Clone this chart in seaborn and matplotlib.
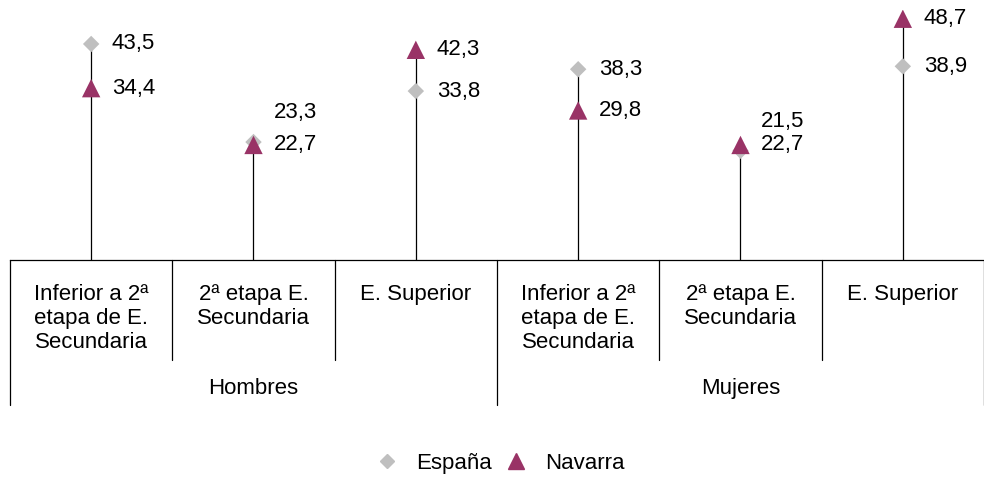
import matplotlib as mpl
import matplotlib.pyplot as plt
import seaborn as sb
import pandas as pd

mpl.use('agg')

groups = ["Hombres", "Mujeres"]
levels = ["Inferior a 2ª\netapa de E.\nSecundaria", "2ª etapa E.\nSecundaria", "E. Superior"]
espana = [43.5, 23.3, 33.8, 38.3, 21.5, 38.9]
navarra = [34.4, 22.7, 42.3, 29.8, 22.7, 48.7]

grey = "#BFBFBF"
plum = "#993366"

sb.set_theme(style="white")
plt.rcParams['font.family'] = ['Liberation Sans', 'DejaVu Sans']
plt.rcParams['text.color'] = 'black'

rows = []
for i in range(len(espana)):
    rows.append({'pos': i, 'region': 'España', 'valor': espana[i]})
for i in range(len(navarra)):
    rows.append({'pos': i, 'region': 'Navarra', 'valor': navarra[i]})
df = pd.DataFrame(rows)

fig = plt.figure(figsize=(9.84, 4.78), dpi=100)
ax = fig.add_axes([10 / 984, 218 / 478, 974 / 984, 250 / 478])

# drop lines from the axis up to the higher marker
top = df.groupby('pos')['valor'].max()
ax.vlines(top.index, -1, top.values, color='black', linewidth=0.9, zorder=1)

sb.scatterplot(data=df, x='pos', y='valor', hue='region', style='region', size='region',
               palette={'España': grey, 'Navarra': plum},
               markers={'España': 'D', 'Navarra': '^'},
               sizes={'España': 70, 'Navarra': 175},
               linewidth=0, ax=ax, zorder=3, legend=False)

fs = 16
for i in range(len(espana)):
    e, n = espana[i], navarra[i]
    close = abs(e - n) < 3
    ax.annotate(f"{e:.1f}".replace('.', ','), (i, e), xytext=(15, 21 if close else 0),
                textcoords='offset points', va='center', ha='left', fontsize=fs)
    ax.annotate(f"{n:.1f}".replace('.', ','), (i, n), xytext=(15, 0),
                textcoords='offset points', va='center', ha='left', fontsize=fs)

ax.set_xlim(-0.5, 5.5)
ax.set_ylim(-1, 50.5)
ax.set_xticks([])
ax.set_yticks([])
ax.set_xlabel("")
ax.set_ylabel("")
for s in ['top', 'left', 'right']:
    ax.spines[s].set_visible(False)
ax.spines['bottom'].set_color('black')
ax.spines['bottom'].set_linewidth(0.9)

# multi-level category axis
tr = ax.get_xaxis_transform()
for k in range(7):
    x = k - 0.5
    low = -0.58 if k % 3 == 0 else -0.4
    ax.plot([x, x], [0, low], transform=tr, color='black', linewidth=0.9, clip_on=False)
for i in range(6):
    ax.text(i, -0.095, levels[i % 3], transform=tr, ha='center', va='top',
            fontsize=fs, linespacing=1.2)
for g, name in enumerate(groups):
    ax.text(g * 3 + 1, -0.515, name, transform=tr, ha='center', va='center', fontsize=fs)

# legend
handles = [
    plt.Line2D([], [], marker='D', color=grey, linestyle='', markersize=7),
    plt.Line2D([], [], marker='^', color=plum, linestyle='', markersize=11),
]
fig.legend(handles, ['España', 'Navarra'], loc='center', bbox_to_anchor=(0.507, 0.031),
           ncol=2, frameon=False, fontsize=fs, handletextpad=0.7, columnspacing=0.5,
           handlelength=1.2)

fig.savefig('out.png', dpi=100)
